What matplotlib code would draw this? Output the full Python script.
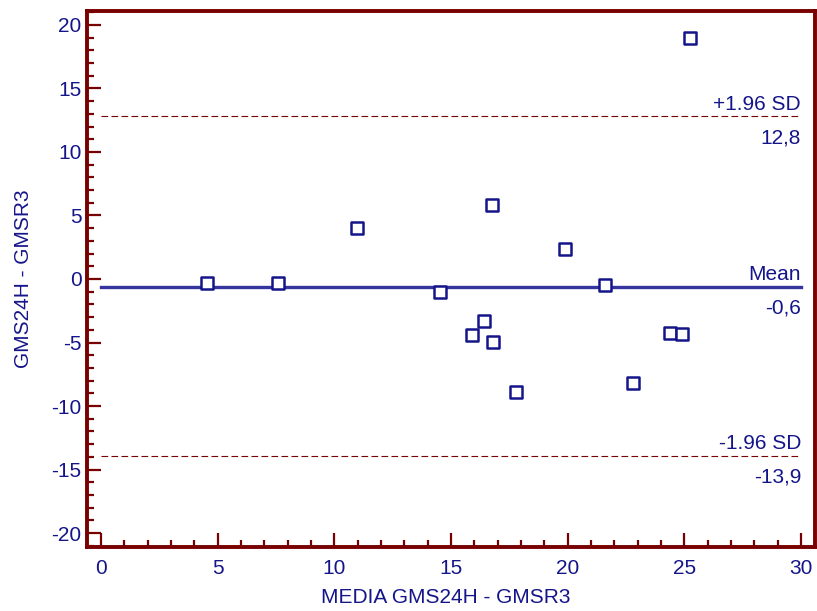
import numpy as np
import matplotlib.pyplot as plt
from matplotlib.ticker import MultipleLocator

plt.rcParams['font.family'] = ['Liberation Sans', 'DejaVu Sans']
plt.rcParams['axes.unicode_minus'] = False

# media y diferencia de las dos mediciones
media = [4.54, 7.59, 10.97, 14.53, 15.9, 16.42, 16.76, 16.8, 17.79,
         19.89, 21.6, 22.8, 24.39, 24.9, 25.25]
diferencia = [-0.33, -0.33, 4.0, -1.04, -4.37, -3.33, 5.81, -4.98, -8.93,
              2.35, -0.49, -8.15, -4.26, -4.35, 18.97]

media_dif = -0.6
sd_sup = 12.8
sd_inf = -13.9

azul = '#15158a'
granate = '#780000'

fig = plt.figure(figsize=(8.17, 6.11), dpi=100)
ax = fig.add_axes([87 / 817, 1 - 547 / 611, (815 - 87) / 817, (547 - 11) / 611])

ax.plot([0, 30], [media_dif, media_dif], color='#3535a0', lw=2.4, zorder=2)
ax.plot([0, 30], [sd_sup, sd_sup], color=granate, lw=0.8, ls=(0, (6, 3)), zorder=2)
ax.plot([0, 30], [sd_inf, sd_inf], color=granate, lw=0.8, ls=(0, (6, 3)), zorder=2)

ax.scatter(media, diferencia, marker='s', s=70, facecolors='white',
           edgecolors=azul, linewidths=1.8, zorder=3)

fs = 15


def etiqueta(y, arriba):
    ax.text(30, y + 0.5, arriba, ha='right', va='baseline', color=azul, fontsize=fs)
    ax.text(30, y - 0.95, f'{y:.1f}'.replace('.', ','), ha='right', va='top',
            color=azul, fontsize=fs)


etiqueta(sd_sup, '+1.96 SD')
etiqueta(media_dif, 'Mean')
etiqueta(sd_inf, '-1.96 SD')

ax.set_xlim(-0.6, 30.6)
ax.set_ylim(-21.1, 21.1)
ax.xaxis.set_major_locator(MultipleLocator(5))
ax.xaxis.set_minor_locator(MultipleLocator(1))
ax.yaxis.set_major_locator(MultipleLocator(5))
ax.yaxis.set_minor_locator(MultipleLocator(1))

for s in ax.spines.values():
    s.set_color(granate)
    s.set_linewidth(2.8)

ax.tick_params(which='both', direction='in', color=granate, width=1.6,
               labelcolor=azul, labelsize=fs, top=False, right=False)
ax.tick_params(which='major', length=10)
ax.tick_params(which='minor', length=5)
ax.tick_params(axis='x', pad=9)
ax.tick_params(axis='y', pad=4)

ax.set_xlabel('MEDIA GMS24H - GMSR3', color=azul, fontsize=fs, va='center')
ax.set_ylabel('GMS24H - GMSR3', color=azul, fontsize=fs, va='center')
ax.xaxis.set_label_coords(0.5 - (456 - 451) / 728, -0.095)
ax.yaxis.set_label_coords(-0.087, 0.5)

fig.savefig('out.png', dpi=100)
